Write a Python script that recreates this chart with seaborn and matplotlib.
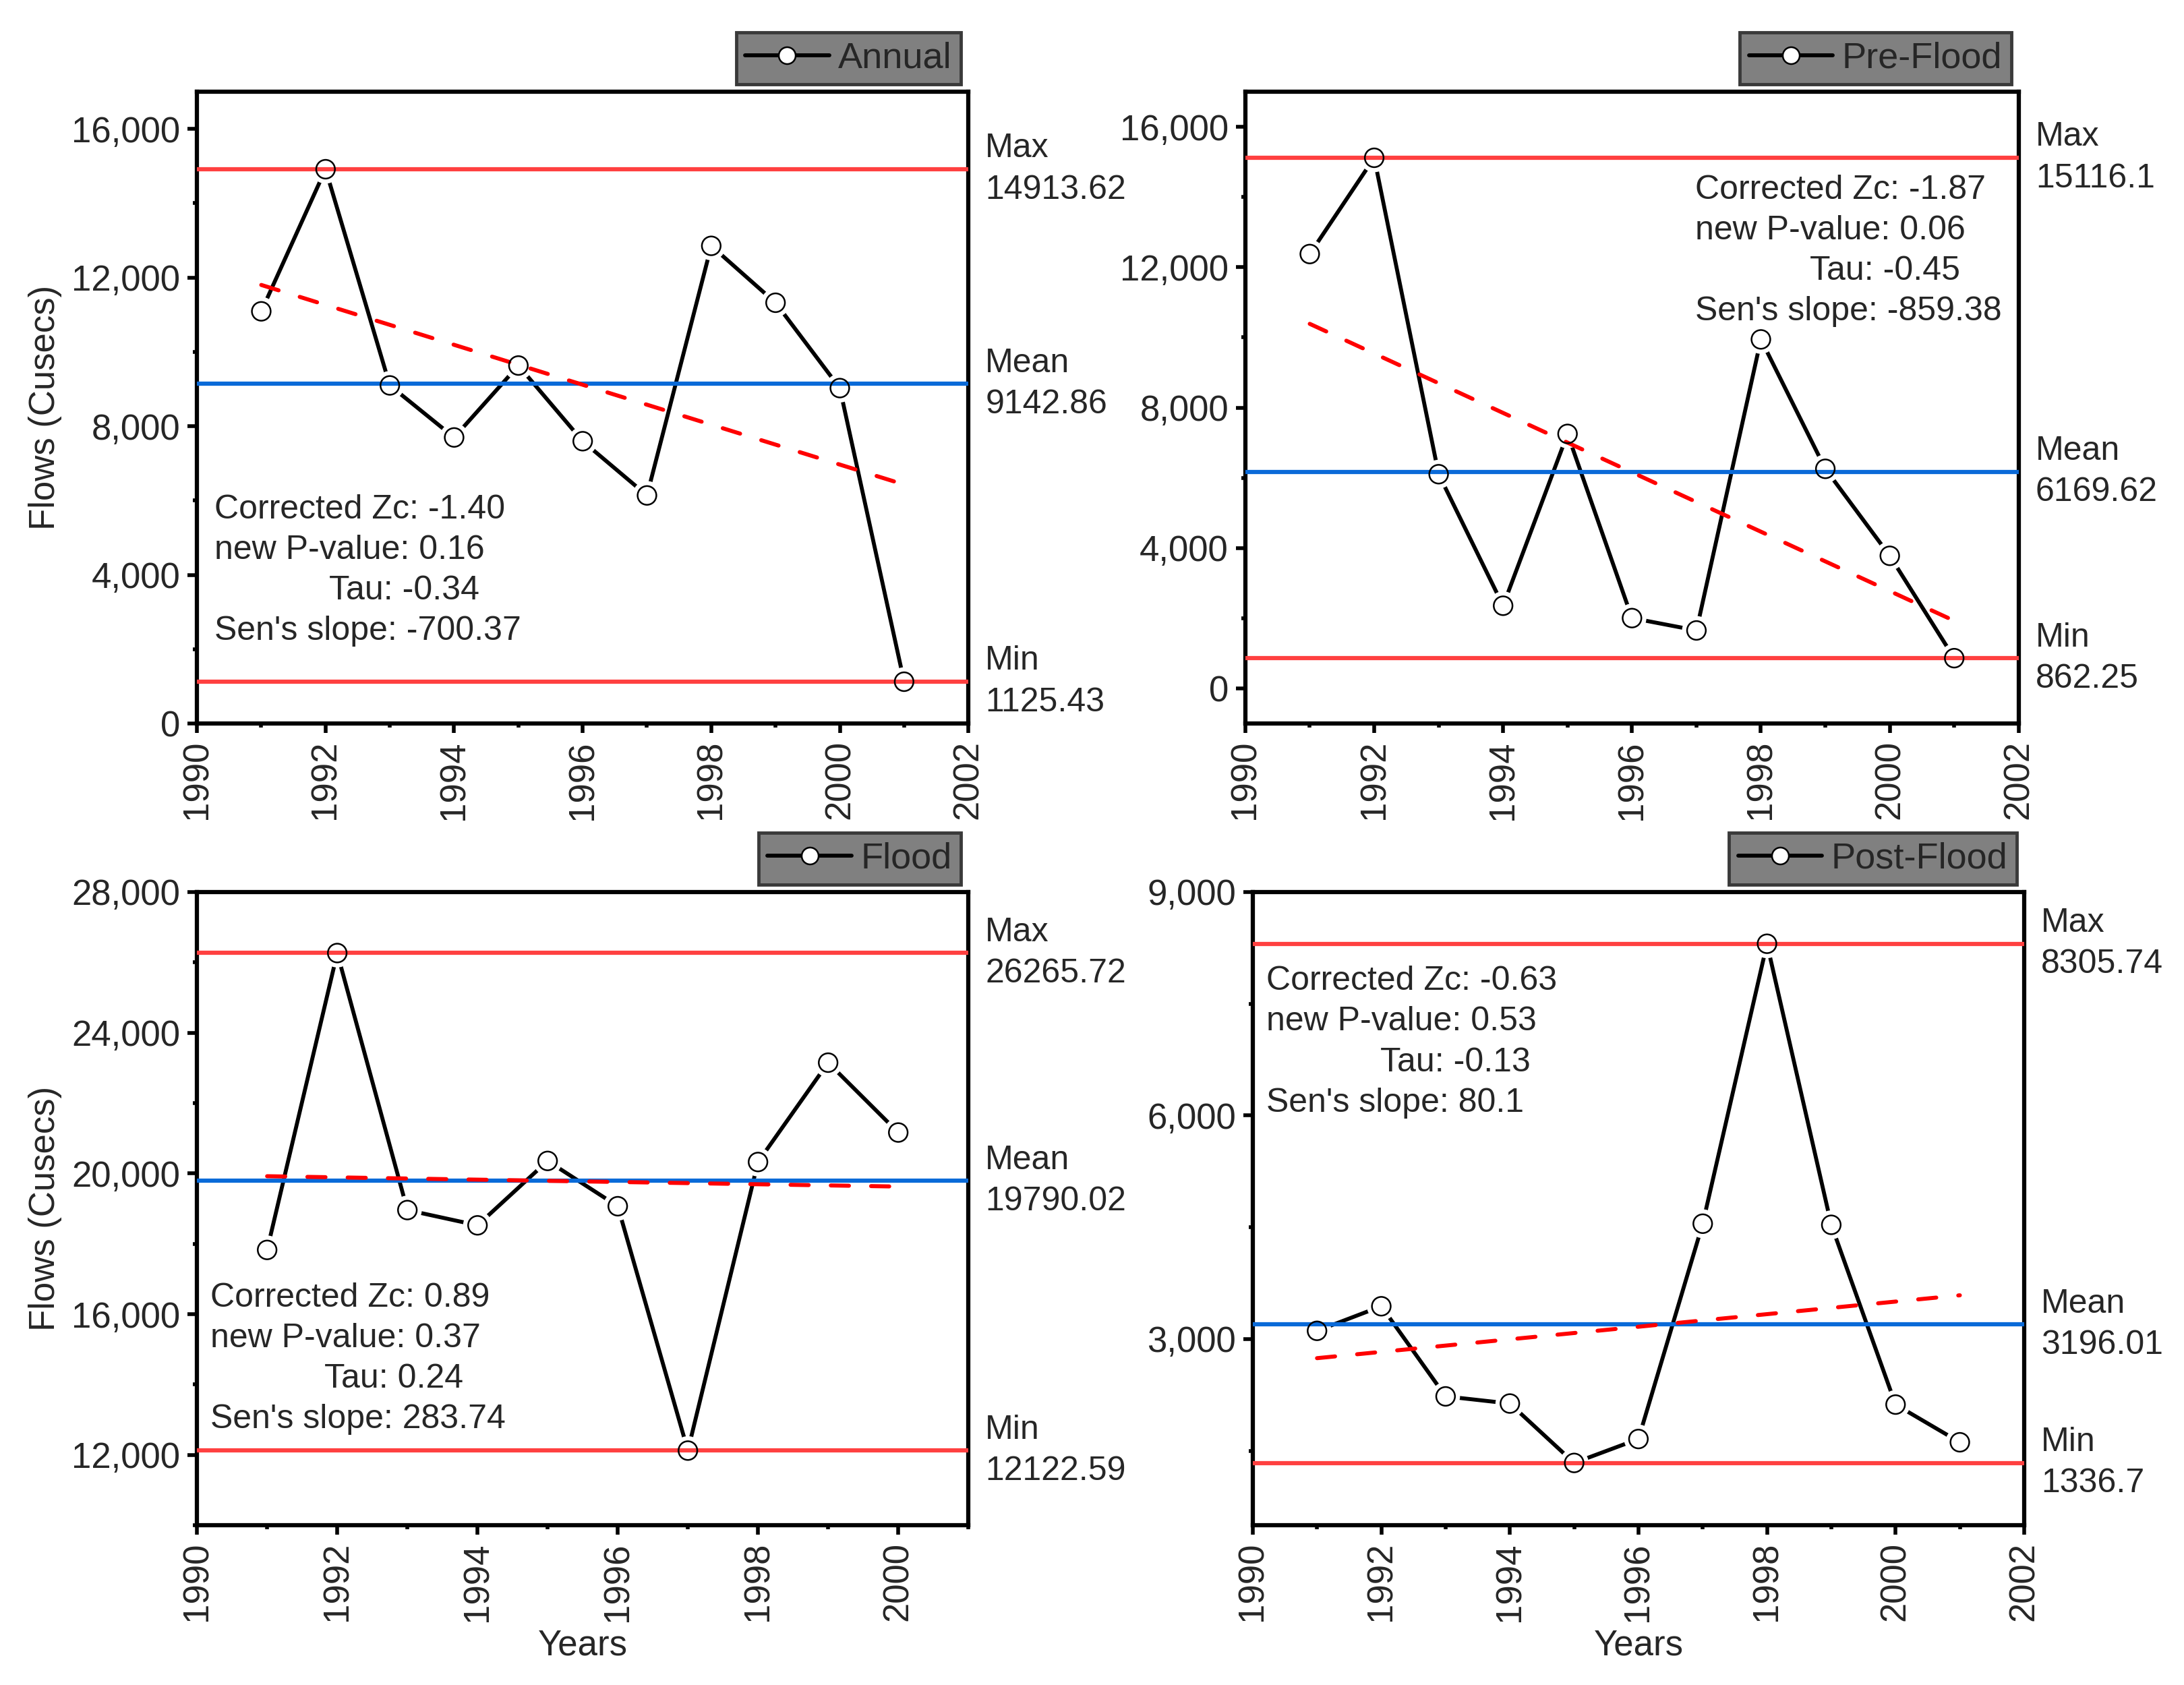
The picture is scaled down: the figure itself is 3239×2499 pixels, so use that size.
import matplotlib
matplotlib.use('Agg')
import matplotlib.pyplot as plt
import seaborn as sns
from matplotlib.lines import Line2D
from matplotlib.ticker import MultipleLocator, FuncFormatter

# --- data ---
years = list(range(1991, 2002))
flood_years = list(range(1991, 2001))

annual = [11090, 14913.62, 9097, 7697, 9632, 7596, 6137, 12852, 11321, 9025, 1125.43]
pre_flood = [12375, 15116.1, 6103, 2356, 7251, 2004, 1652, 9943, 6256, 3778, 862.25]
flood = [17827, 26265.72, 18960, 18526, 20357, 19069, 12122.59, 20326, 23150, 21164]
post_flood = [3110, 3440, 2230, 2134, 1336.7, 1658, 4548, 8305.74, 4533, 2120, 1614]

# max / mean / min reference levels
annual_ref = [14913.62, 9142.86, 1125.43]
pre_flood_ref = [15116.1, 6169.62, 862.25]
flood_ref = [26265.72, 19790.02, 12122.59]
post_flood_ref = [8305.74, 3196.01, 1336.7]
ref_names = ['Max', 'Mean', 'Min']

# Sen's slope trend lines (start, end)
annual_trend_x = [1991, 2001]
annual_trend = [11800, 6430]
pre_flood_trend_x = [1991, 2001]
pre_flood_trend = [10386, 1927]
flood_trend_x = [1991, 2000]
flood_trend = [19922, 19628]
post_flood_trend_x = [1991, 2001]
post_flood_trend = [2743, 3587]

# Mann-Kendall stats
annual_stats = ['Corrected Zc: -1.40', 'new P-value: 0.16', 'Tau: -0.34', "Sen's slope: -700.37"]
pre_flood_stats = ['Corrected Zc: -1.87', 'new P-value: 0.06', 'Tau: -0.45', "Sen's slope: -859.38"]
flood_stats = ['Corrected Zc: 0.89', 'new P-value: 0.37', 'Tau: 0.24', "Sen's slope: 283.74"]
post_flood_stats = ['Corrected Zc: -0.63', 'new P-value: 0.53', 'Tau: -0.13', "Sen's slope: 80.1"]

sns.set_theme(style='ticks')
plt.rcParams['font.family'] = ['Liberation Sans', 'DejaVu Sans']

RED = '#FF4040'
BLUE = '#0A6AD8'
TREND = '#FF0000'
FS = 36      # stats / ref labels
TFS = 38     # tick and axis labels

fig = plt.figure(figsize=(32.39, 24.99), dpi=100)


def draw_panel(rect, name, x, y, refs, tx, ty, stats, stats_xy, ylim, ymajor,
               xlim, xticks, ylabel=False, xlabel=False):
    ax = fig.add_axes(rect)

    # data line, white halo to leave gaps at markers, hollow markers on top
    sns.lineplot(x=x, y=y, ax=ax, color='black', lw=4.2, zorder=2)
    sns.scatterplot(x=x, y=y, ax=ax, s=950, color='white', edgecolor='none',
                    zorder=2.5, legend=False)
    for val, col in zip(refs, [RED, BLUE, RED]):
        ax.axhline(val, color=col, lw=4.5, zorder=3)
    ax.plot(tx, ty, color=TREND, lw=4.3, dashes=[4.5, 5.5], dash_capstyle='round', zorder=3.5)
    sns.scatterplot(x=x, y=y, ax=ax, s=400, facecolors='none', edgecolor='black',
                    linewidth=1.8, zorder=4, legend=False)

    # Max / Mean / Min labels on the right
    for lab, val in zip(ref_names, refs):
        ax.annotate(lab, xy=(1, val), xycoords=('axes fraction', 'data'), xytext=(18, 22),
                    textcoords='offset points', va='center', ha='left', fontsize=FS,
                    annotation_clip=False)
        ax.annotate(str(val), xy=(1, val), xycoords=('axes fraction', 'data'), xytext=(18, -22),
                    textcoords='offset points', va='center', ha='left', fontsize=FS,
                    annotation_clip=False)

    # stats block
    sx, sy = stats_xy
    for i, line in enumerate(stats):
        dx = 0.148 if line.startswith('Tau') else 0
        ax.text(sx + dx, sy - i * 0.064, line, transform=ax.transAxes, fontsize=FS,
                va='center', ha='left', zorder=5)

    ax.set_xlim(*xlim)
    ax.set_ylim(*ylim)
    ax.set_xticks(xticks)
    ax.xaxis.set_minor_locator(MultipleLocator(1))
    ax.yaxis.set_major_locator(MultipleLocator(ymajor))
    ax.yaxis.set_minor_locator(MultipleLocator(ymajor / 2))
    ax.yaxis.set_major_formatter(FuncFormatter(lambda v, p: f'{v:,.0f}'))
    ax.tick_params(axis='both', which='major', length=10, width=4, direction='out',
                   labelsize=TFS, pad=8, color='black')
    ax.tick_params(axis='both', which='minor', length=4.5, width=4, direction='out',
                   color='black')
    ax.tick_params(axis='x', which='major', labelrotation=90)
    ax.tick_params(top=False, right=False, which='both')
    for sp in ax.spines.values():
        sp.set_linewidth(4.5)
        sp.set_color('black')
        sp.set_visible(True)

    ax.set_xlabel('Years' if xlabel else '', fontsize=TFS, labelpad=8)
    if ylabel:
        ax.set_ylabel('Flows (Cusecs)', fontsize=TFS)
        ax.yaxis.set_label_coords(-0.175, 0.5)
    else:
        ax.set_ylabel('')

    handle = Line2D([], [], color='black', lw=4.2, marker='o', markersize=18,
                    markerfacecolor='white', markeredgecolor='black', markeredgewidth=1.8)
    leg = ax.legend([handle], [name], loc='lower right', bbox_to_anchor=(1, 1),
                    bbox_transform=ax.transAxes, fontsize=39, frameon=True, fancybox=False,
                    borderpad=0.25, handletextpad=0.25, handlelength=2.3, borderaxespad=0.2)
    frame = leg.get_frame()
    frame.set_facecolor('#808080')
    frame.set_edgecolor('#3A3A3A')
    frame.set_linewidth(3.5)
    frame.set_alpha(1)
    return ax


draw_panel([0.0902, 0.5706, 0.3532, 0.3750], 'Annual', years, annual, annual_ref,
           annual_trend_x, annual_trend, annual_stats, (0.023, 0.338),
           (0, 17000), 4000, (1990, 2002), range(1990, 2003, 2), ylabel=True)
draw_panel([0.5702, 0.5706, 0.3541, 0.3750], 'Pre-Flood', years, pre_flood, pre_flood_ref,
           pre_flood_trend_x, pre_flood_trend, pre_flood_stats, (0.582, 0.844),
           (-1000, 17000), 4000, (1990, 2002), range(1990, 2003, 2))
draw_panel([0.0902, 0.0948, 0.3532, 0.3758], 'Flood', flood_years, flood, flood_ref,
           flood_trend_x, flood_trend, flood_stats, (0.0175, 0.359),
           (10000, 28000), 4000, (1990, 2001), range(1990, 2001, 2), ylabel=True, xlabel=True)
draw_panel([0.5736, 0.0948, 0.3532, 0.3758], 'Post-Flood', years, post_flood, post_flood_ref,
           post_flood_trend_x, post_flood_trend, post_flood_stats, (0.0175, 0.859),
           (500, 9000), 3000, (1990, 2002), range(1990, 2003, 2), xlabel=True)

fig.savefig('out.png', dpi=100)
